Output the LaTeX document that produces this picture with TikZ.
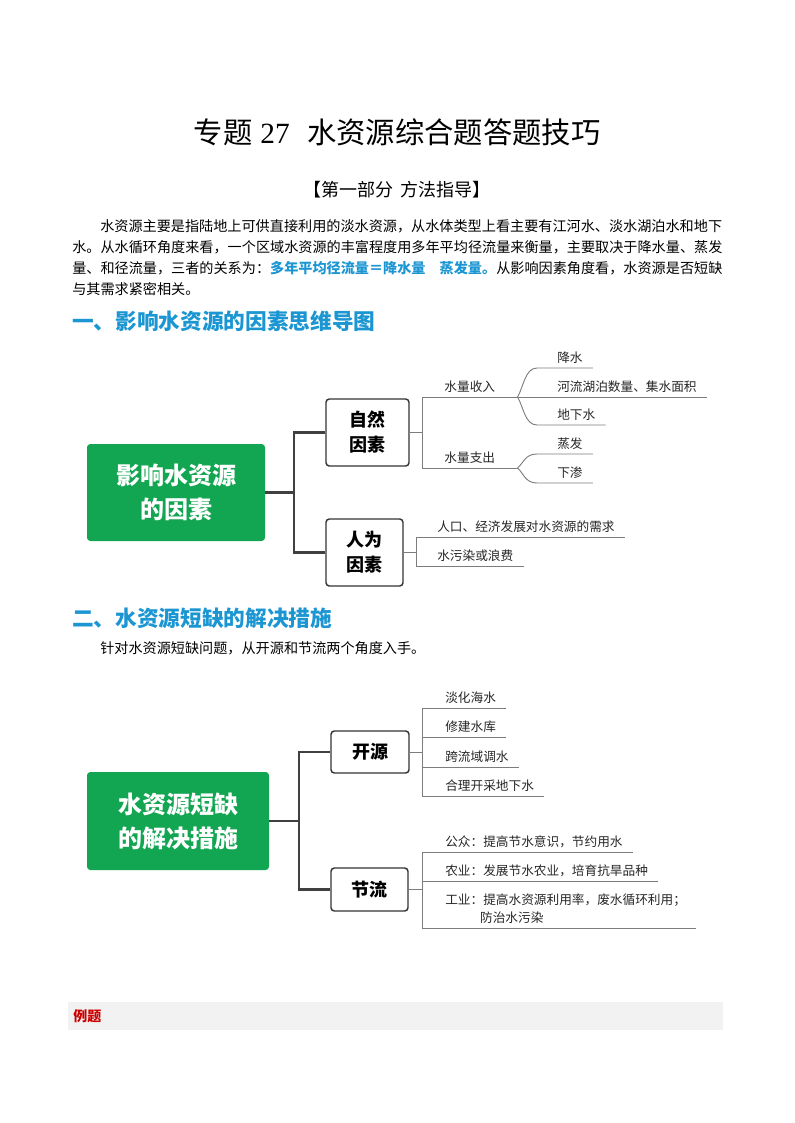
\documentclass[tikz,border=0pt]{standalone}
\usepackage{fontspec}
\setmainfont{Noto Sans CJK SC}
\newfontfamily\serifnum{Liberation Serif}
\definecolor{tiblue}{RGB}{28,150,210}
\definecolor{mapgreen}{RGB}{18,166,82}
\definecolor{trunkgray}{RGB}{64,64,64}
\definecolor{twiggray}{RGB}{125,125,125}
\definecolor{bandgray}{RGB}{242,242,242}
\definecolor{redlabel}{RGB}{204,0,0}

\begin{document}
\begin{tikzpicture}[x=0.75pt, y=-0.75pt,
  txt/.style={inner sep=0pt, anchor=west, font=\fontsize{10.6pt}{14pt}\selectfont},
  sechead/.style={txt, text=tiblue, font=\fontsize{16.25pt}{19pt}\selectfont\bfseries},
  rootbox/.style={fill=mapgreen, rounded corners=2.5pt, text=white, align=center, inner sep=0pt, font=\fontsize{18pt}{25.5pt}\selectfont\bfseries},
  catbox/.style={draw=black!80, line width=1.1pt, rounded corners=2.5pt, align=center, inner sep=0pt, font=\fontsize{13.5pt}{18.75pt}\selectfont\bfseries},
  trunk/.style={draw=trunkgray, line width=2.2pt},
  twig/.style={draw=twiggray, line width=0.7pt},
  grp/.style={anchor=south west, inner xsep=0pt, inner ysep=3pt, text=black!85, font=\fontsize{9.5pt}{13.5pt}\selectfont},
  leaf/.style={anchor=south west, inner xsep=7.5pt, inner ysep=3pt, align=left, text=black!85, font=\fontsize{9.5pt}{13.5pt}\selectfont}]
\useasboundingbox (0,0) rectangle (794,1123);

% Titulo
\node[inner sep=0pt, font=\fontsize{22pt}{26pt}\selectfont] (title) at (397,132) {专题\hspace{6pt}{\serifnum 27}\hspace{13pt}水资源综合题答题技巧};
\node[inner sep=0pt, font=\fontsize{13.5pt}{16pt}\selectfont] (part) at (397,190) {【第一部分\hspace{5pt}方法指导】};

% Texto
\node[txt] (p1) at (100,226.5) {水资源主要是指陆地上可供直接利用的淡水资源，从水体类型上看主要有江河水、淡水湖泊水和地下};
\node[txt] (p2) at (72,247.5) {水。从水循环角度来看，一个区域水资源的丰富程度用多年平均径流量来衡量，主要取决于降水量、蒸发};
\node[txt] (p3) at (72,268.5) {量、和径流量，三者的关系为：{\color{tiblue}\bfseries 多年平均径流量＝降水量\hspace{1em}蒸发量。}从影响因素角度看，水资源是否短缺};
\node[txt] (p4) at (72,289.5) {与其需求紧密相关。};

\node[sechead] (sec1) at (72,321) {一、影响水资源的因素思维导图};

% Mapa 1
\node[rootbox, minimum width=133.5pt, minimum height=72.75pt] (root1) at (176,492.5) {影响水资源\\的因素};
\node[catbox, minimum width=62.25pt, minimum height=50.25pt] (nat) at (367.5,432.5) {自然\\因素};
\node[catbox, minimum width=57.75pt, minimum height=50.25pt] (hum) at (364.5,552.5) {人为\\因素};
\coordinate (j1) at (294,492.5);
\draw[trunk] (root1.east) -- (j1);
\draw[trunk] (nat.west) -| (j1) |- (hum.west);

\node[grp, minimum width=71.25pt] (inc) at (422,397) {水量收入};
\node[grp, minimum width=71.25pt] (out) at (422,468) {水量支出};
\draw[twig] (nat.east) -- (nat.east -| inc.south west);
\draw[twig] (inc.south west) -- (out.south west);
\draw[twig] (inc.south west) -- (inc.south east);
\draw[twig] (out.south west) -- (out.south east);

\node[leaf] (rain) at (547,368) {降水};
\node[leaf] (lake) at (547,397) {河流湖泊数量、集水面积};
\node[leaf] (ground) at (547,425) {地下水};
\node[leaf] (evap) at (547,454) {蒸发};
\node[leaf] (seep) at (547,483) {下渗};
\draw[twig] (inc.south east) .. controls +(6,-10) and +(-12,0) .. ([xshift=-7.5pt]rain.south west) -- (rain.south east);
\draw[twig] (inc.south east) -- (lake.south east);
\draw[twig] (inc.south east) .. controls +(6,10) and +(-12,0) .. ([xshift=-7.5pt]ground.south west) -- (ground.south east);
\draw[twig] (out.south east) .. controls +(6,-5) and +(-12,0) .. ([xshift=-7.5pt]evap.south west) -- (evap.south east);
\draw[twig] (out.south east) .. controls +(6,5) and +(-12,0) .. ([xshift=-7.5pt]seep.south west) -- (seep.south east);

\coordinate (k2) at (416,552.5);
\node[leaf] (need) at (427,537) {人口、经济发展对水资源的需求};
\node[leaf] (waste) at (427,566) {水污染或浪费};
\draw[twig] (hum.east) -- (k2);
\draw[twig] (k2 |- need.south) -- (k2 |- waste.south);
\draw[twig] (k2 |- need.south) -- (need.south east);
\draw[twig] (k2 |- waste.south) -- (waste.south east);

\node[sechead] (sec2) at (72,618) {二、水资源短缺的解决措施};
\node[txt] (p5) at (100,648) {针对水资源短缺问题，从开源和节流两个角度入手。};

% Mapa 2
\node[rootbox, minimum width=136.5pt, minimum height=73.5pt] (root2) at (178,821) {水资源短缺\\的解决措施};
\node[catbox, minimum width=58.5pt, minimum height=31.5pt] (open) at (370,752) {开源};
\node[catbox, minimum width=57.75pt, minimum height=32.25pt] (save) at (369.5,889.5) {节流};
\coordinate (j2) at (299,821);
\draw[trunk] (root2.east) -- (j2);
\draw[trunk] (open.west) -| (j2) |- (save.west);

\coordinate (k3) at (422,752);
\node[leaf] (desal) at (435,708) {淡化海水};
\node[leaf] (dam) at (435,737) {修建水库};
\node[leaf] (divert) at (435,767) {跨流域调水};
\node[leaf] (well) at (435,796) {合理开采地下水};
\draw[twig] (open.east) -- (k3);
\draw[twig] (k3 |- desal.south) -- (k3 |- well.south);
\foreach \leafname in {desal, dam, divert, well}
  \draw[twig] (k3 |- \leafname.south) -- (\leafname.south east);

\coordinate (k4) at (422,889.5);
\node[leaf] (public) at (435,852) {公众：提高节水意识，节约用水};
\node[leaf] (farm) at (435,881) {农业：发展节水农业，培育抗旱品种};
\node[leaf] (industry) at (435,928) {工业：提高水资源利用率，废水循环利用；\\\hspace*{2.75em}防治水污染};
\draw[twig] (save.east) -- (k4);
\draw[twig] (k4 |- public.south) -- (k4 |- industry.south);
\foreach \leafname in {public, farm, industry}
  \draw[twig] (k4 |- \leafname.south) -- (\leafname.south east);

% Exemplo
\node[anchor=west, fill=bandgray, inner xsep=3.75pt, inner ysep=0pt, minimum height=21pt, text width=483.75pt, text=redlabel, font=\fontsize{10.5pt}{13pt}\selectfont\bfseries] (example) at (68,1016) {例题};
\end{tikzpicture}
\end{document}
